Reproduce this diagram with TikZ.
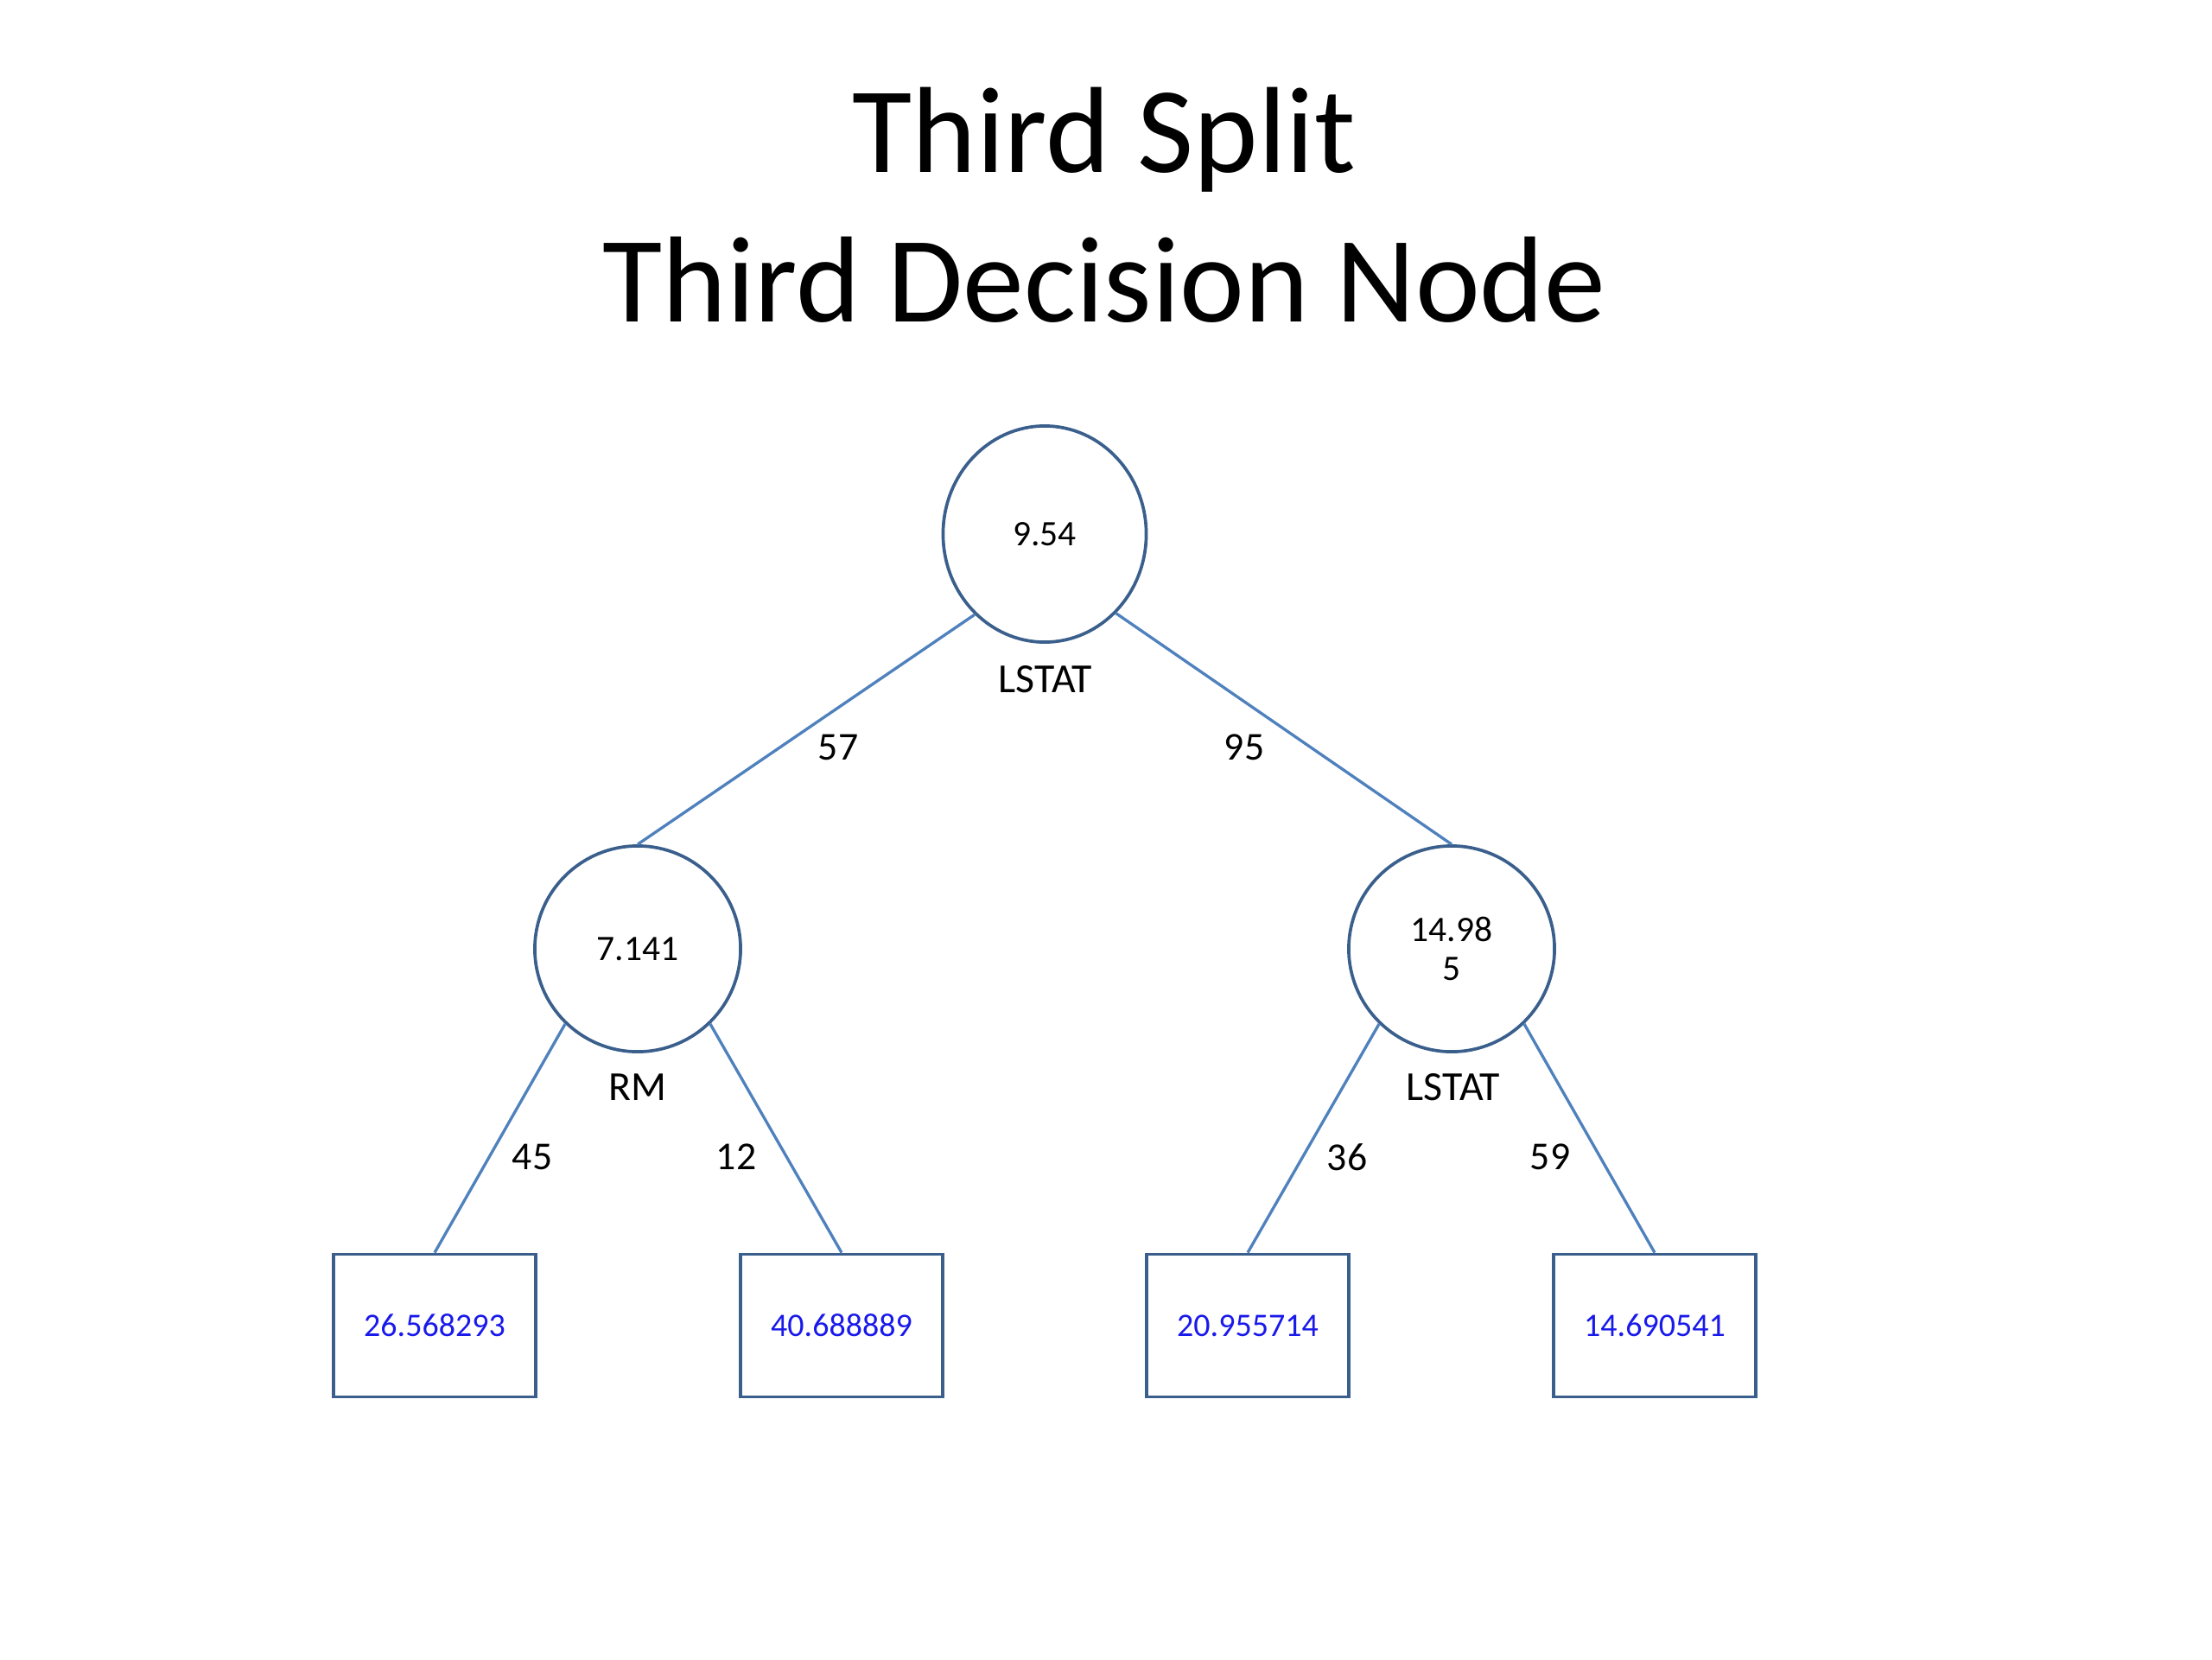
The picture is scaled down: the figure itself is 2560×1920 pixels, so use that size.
\documentclass[tikz,border=0pt]{standalone}
\usepackage{fontspec}
\setmainfont{Carlito}
\usetikzlibrary{shapes.geometric}
\definecolor{edgeblue}{HTML}{4F81BD}
\definecolor{outline}{HTML}{3A5F8C}
\definecolor{leafblue}{RGB}{25,25,235}
\begin{document}
\begin{tikzpicture}[x=0.01cm,y=-0.01cm,
  titletext/.style={font=\fontsize{40.3}{48}\selectfont, inner sep=0, anchor=base},
  split/.style={draw=outline, line width=1.05pt, inner sep=0, align=center,
    font=\fontsize{11.8}{13}\selectfont},
  roundsplit/.style={split, circle, minimum size=2.38cm},
  rootsplit/.style={split, ellipse, minimum width=2.35cm, minimum height=2.5cm},
  leaf/.style={draw=outline, line width=1.05pt, minimum width=2.34cm, minimum height=1.65cm,
    inner sep=0, text=leafblue, font=\fontsize{10.8}{13}\selectfont},
  conn/.style={draw=edgeblue, line width=0.95pt},
  varlabel/.style={font=\fontsize{13.6}{15}\selectfont, inner sep=0},
  countlabel/.style={font=\fontsize{13}{15}\selectfont, inner sep=0}]
\useasboundingbox (0,0) rectangle (2560,1920);

\node[titletext] (t1) at (1278,199) {Third Split};
\node[titletext] (t2) at (1278,372) {Third Decision Node};

\node[rootsplit] (root) at (1209,618) {9.54};
\node[roundsplit] (L) at (738,1098) {7.141};
\node[roundsplit] (R) at (1680,1098) {14.98\\5};

\node[leaf] (l1) at (503,1534) {26.568293};
\node[leaf] (l2) at (974,1534) {40.688889};
\node[leaf] (l3) at (1444,1534) {20.955714};
\node[leaf] (l4) at (1915,1534) {14.690541};

\draw[conn] (root.-131) -- (L.north);
\draw[conn] (root.-48) -- (R.north);
\draw[conn] (L.-134) -- (l1.north);
\draw[conn] (L.-46) -- (l2.north);
\draw[conn] (R.-134) -- (l3.north);
\draw[conn] (R.-46) -- (l4.north);

\node[varlabel] (v1) at (1210,786) {LSTAT};
\node[varlabel] (v2) at (738,1258) {RM};
\node[varlabel] (v3) at (1682,1258) {LSTAT};

\node[countlabel] (c57) at (970,865) {57};
\node[countlabel] (c95) at (1440,865) {95};
\node[countlabel] (c45) at (616,1339) {45};
\node[countlabel] (c12) at (852,1339) {12};
\node[countlabel] (c36) at (1559,1339) {36};
\node[countlabel] (c59) at (1794,1339) {59};
\end{tikzpicture}
\end{document}
